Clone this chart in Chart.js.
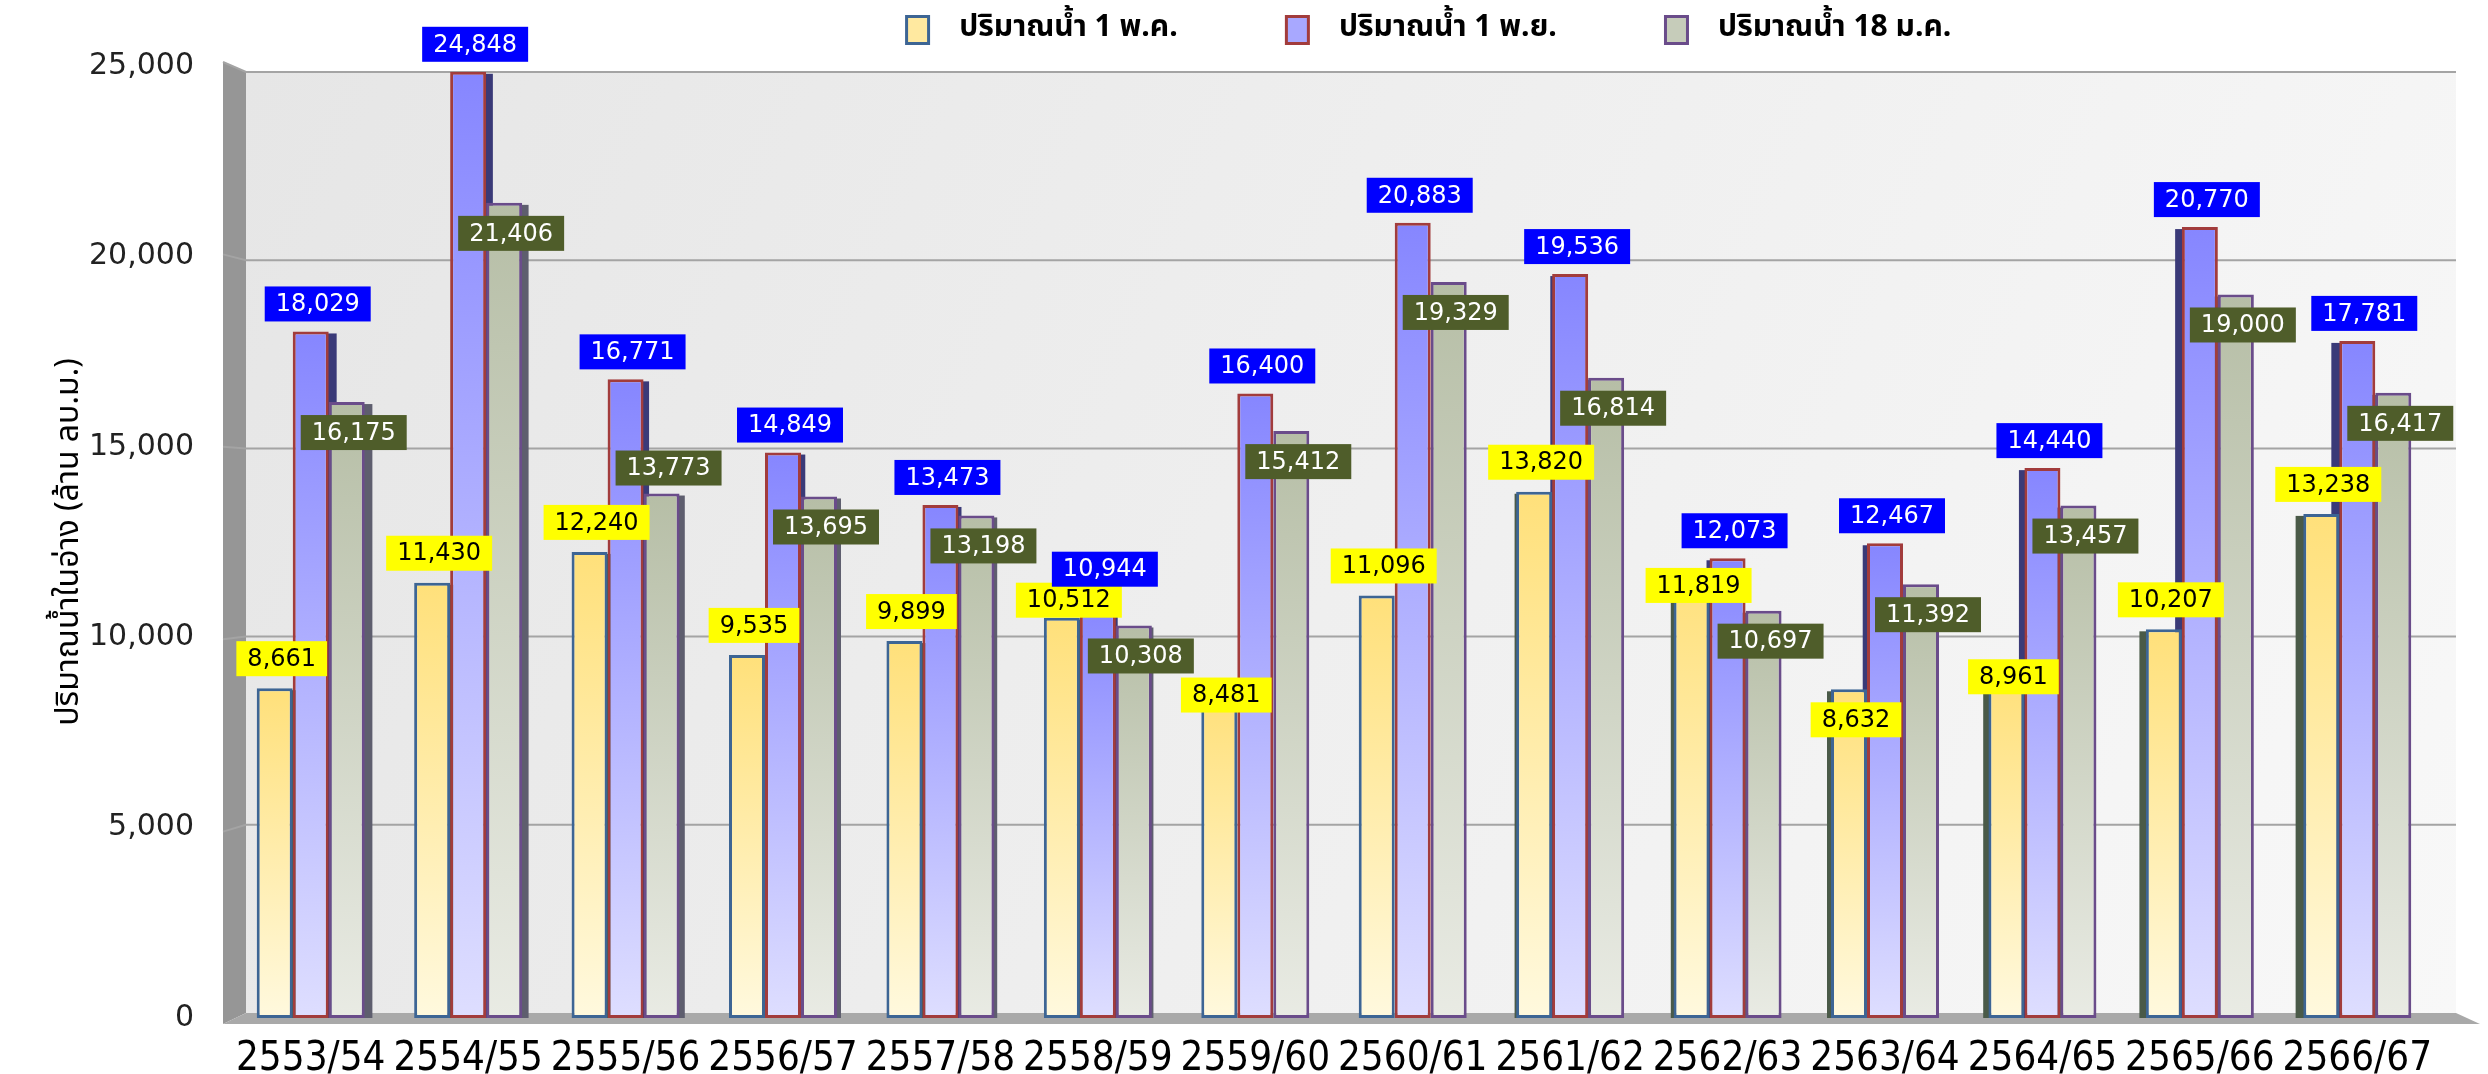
<!DOCTYPE html>
<html>
<head>
<meta charset="utf-8">
<script src="https://cdn.jsdelivr.net/npm/chart.js@4.4.0/dist/chart.umd.min.js"></script>
<style>
  html, body { margin: 0; padding: 0; background: #fff; }
  #grafico { width: 2488px; height: 1074px; position: relative; }
</style>
</head>
<body>
<div id="grafico"><canvas id="barras"></canvas></div>
<script>
// DATOS
const anios = ["2553/54", "2554/55", "2555/56", "2556/57", "2557/58", "2558/59", "2559/60",
  "2560/61", "2561/62", "2562/63", "2563/64", "2564/65", "2565/66", "2566/67"];
const nombres = ["ปริมาณน้ำ 1 พ.ค.", "ปริมาณน้ำ 1 พ.ย.", "ปริมาณน้ำ 18 ม.ค."];
const aguaMayo = [8661, 11430, 12240, 9535, 9899, 10512, 8481, 11096, 13820, 11819, 8632, 8961, 10207, 13238];
const aguaNoviembre = [18029, 24848, 16771, 14849, 13473, 10944, 16400, 20883, 19536, 12073, 12467, 14440, 20770, 17781];
const aguaEnero = [16175, 21406, 13773, 13695, 13198, 10308, 15412, 19329, 16814, 10697, 11392, 13457, 19000, 16417];
const marcasY = [0, 5000, 10000, 15000, 20000, 25000];
const tituloY = "ปริมาณน้ำในอ่าง (ล้าน ลบ.ม.)";
// DATOS END

const fuenteThai = "'Noto Sans Thai', 'Noto Sans', 'DejaVu Sans', sans-serif";
const fuenteNum = "'DejaVu Sans', Verdana, sans-serif";

const estilos = [
  { arriba: "#FFE07A", abajo: "#FFF9DE", borde: "#3D6594", lado: "#4A5A48", caja: "#FFFF00", texto: "#000000", leyenda: "#FFE9A0" },
  { arriba: "#8686FF", abajo: "#DEDEFF", borde: "#A23C3C", lado: "#3A3A78", caja: "#0000FF", texto: "#FFFFFF", leyenda: "#A8A8FF" },
  { arriba: "#B6BEA6", abajo: "#E9EBE4", borde: "#6A4C8A", lado: "#5E5E6E", caja: "#4F5D2A", texto: "#FFFFFF", leyenda: "#C6CCBA" },
];

function degradado(ctx, i) {
  const chart = ctx.chart;
  if (!chart.chartArea || ctx.type !== "data") return estilos[i].arriba;
  const y = chart.scales.y;
  const top = y.getPixelForValue(ctx.raw);
  const base = y.getPixelForValue(0);
  const g = chart.ctx.createLinearGradient(0, top, 0, base);
  g.addColorStop(0, estilos[i].arriba);
  g.addColorStop(1, estilos[i].abajo);
  return g;
}

// PAREDES 3D (fondo, pared izquierda, piso y lineas)
const paredes = {
  id: "paredes",
  beforeDraw(chart) {
    const { ctx, chartArea: a, scales: { y } } = chart;
    const fondoIzq = a.left + 14, fondoDer = a.right + 20;
    const fondoArr = a.top + 6, fondoAba = a.bottom - 5;
    const frenteIzq = a.left - 9, frenteArr = a.top - 4, frenteAba = a.bottom + 6;
    const base = y.getPixelForValue(0), tope = y.getPixelForValue(25000);
    const aFondo = (v) => fondoAba - (base - y.getPixelForValue(v)) * (fondoAba - fondoArr) / (base - tope);
    const aFrente = (v) => frenteAba - (base - y.getPixelForValue(v)) * (frenteAba - frenteArr) / (base - tope);

    ctx.save();
    const g = ctx.createLinearGradient(fondoIzq, fondoArr, fondoDer, fondoAba);
    g.addColorStop(0, "#E6E6E6");
    g.addColorStop(1, "#F8F8F8");
    ctx.fillStyle = g;
    ctx.fillRect(fondoIzq, fondoArr, fondoDer - fondoIzq, fondoAba - fondoArr);

    // pared izquierda
    ctx.fillStyle = "#969696";
    ctx.beginPath();
    ctx.moveTo(frenteIzq, frenteArr);
    ctx.lineTo(fondoIzq, fondoArr);
    ctx.lineTo(fondoIzq, fondoAba);
    ctx.lineTo(frenteIzq, frenteAba);
    ctx.closePath();
    ctx.fill();

    // piso
    ctx.fillStyle = "#A9A9A9";
    ctx.beginPath();
    ctx.moveTo(fondoIzq, fondoAba);
    ctx.lineTo(fondoDer, fondoAba);
    ctx.lineTo(fondoDer + 24, frenteAba);
    ctx.lineTo(frenteIzq, frenteAba);
    ctx.closePath();
    ctx.fill();

    // lineas de la grilla
    ctx.strokeStyle = "#A4A4A4";
    ctx.lineWidth = 2;
    y.ticks.forEach((t) => {
      if (t.value === 0) return;
      const yf = aFondo(t.value), yr = aFrente(t.value);
      ctx.beginPath();
      ctx.moveTo(frenteIzq, yr);
      ctx.lineTo(fondoIzq, yf);
      ctx.lineTo(fondoDer, yf);
      ctx.stroke();
    });
    ctx.restore();
  },
  // lado oscuro de cada barra
  beforeDatasetsDraw(chart) {
    const { ctx, chartArea: a } = chart;
    const centro = (a.left + a.right) / 2;
    ctx.save();
    chart.data.datasets.forEach((ds, i) => {
      chart.getDatasetMeta(i).data.forEach((bar) => {
        const d = 8 * (bar.x - centro) / 1030;
        const w = Math.abs(d);
        if (w < 1.5) return;
        const izq = bar.x - bar.width / 2, der = bar.x + bar.width / 2;
        ctx.fillStyle = estilos[i].lado;
        if (d < 0) ctx.fillRect(der - 1, bar.y + 2, w + 1, bar.base - bar.y - 2);
        else ctx.fillRect(izq - w, bar.y + 2, w + 1, bar.base - bar.y - 2);
      });
    });
    ctx.restore();
  },
};

// ETIQUETAS
function cruza(a, b, m) {
  return a.x1 < b.x2 && b.x1 < a.x2 && a.y1 < b.y2 + m && b.y1 < a.y2 + m;
}

const etiquetas = {
  id: "etiquetas",
  afterDatasetsDraw(chart) {
    const ctx = chart.ctx;
    const h = 35;
    ctx.save();
    ctx.font = "24px " + fuenteNum;
    ctx.textAlign = "center";
    ctx.textBaseline = "middle";
    const metas = [0, 1, 2].map((i) => chart.getDatasetMeta(i).data);
    const caja = (i, j, top) => {
      const bar = metas[i][j];
      const txt = chart.data.datasets[i].data[j].toLocaleString("en-US");
      const w = ctx.measureText(txt).width + 22;
      const cx = bar.x + 7;
      return { i, txt, cx, x1: cx - w / 2, x2: cx + w / 2, y1: top, y2: top + h };
    };
    let grisAnterior = null;
    anios.forEach((_, j) => {
      const yb = metas[0][j], bb = metas[1][j], gb = metas[2][j];
      let Y = caja(0, j, yb.y - 12 - h);
      let B = caja(1, j, bb.y - 10 - h);
      let G = caja(2, j, gb.y + 13);
      let adentro = false;
      // amarillo contra gris de la misma columna
      if (cruza(Y, G, 12)) {
        const G2 = caja(2, j, gb.y - 8 - h);
        if (!cruza(G2, B, 10)) G = G2;
        else { Y = caja(0, j, yb.y + 13); adentro = true; }
      }
      // amarillo contra azul
      if (!adentro && cruza(Y, B, 2)) {
        if (yb.y - bb.y < 12) { Y = caja(0, j, yb.y); adentro = true; }
        else {
          Y = caja(0, j, yb.y - h);
          B = caja(1, j, Y.y1 + 4 - h);
        }
      }
      // amarillo contra gris de la columna anterior
      if (!adentro && grisAnterior && cruza(Y, grisAnterior, 0)) {
        Y = caja(0, j, yb.y - h / 2);
      }
      [Y, B, G].forEach((c) => {
        ctx.fillStyle = estilos[c.i].caja;
        ctx.fillRect(c.x1, c.y1, c.x2 - c.x1, h);
        ctx.fillStyle = estilos[c.i].texto;
        ctx.fillText(c.txt, c.cx, c.y1 + h / 2 + 1);
      });
      grisAnterior = G;
    });
    ctx.restore();
  },
};

// LEYENDA con alto fijo y corrida a la derecha
const altoLeyenda = {
  id: "altoLeyenda",
  beforeInit(chart) {
    const fit = chart.legend.fit;
    chart.legend.fit = function () {
      fit.bind(chart.legend)();
      this.height = 66;
    };
  },
  afterLayout(chart) {
    chart.legend.left += 211;
    chart.legend.right += 211;
  },
};

const series = [aguaMayo, aguaNoviembre, aguaEnero];
const data = {
  labels: anios,
  datasets: series.map((valores, i) => ({
    label: nombres[i],
    data: valores,
    backgroundColor: (ctx) => degradado(ctx, i),
    borderColor: estilos[i].borde,
    borderWidth: 3,
    borderSkipped: false,
    barPercentage: 1,
    categoryPercentage: 0.686,
  })),
};

const config = {
  type: "bar",
  data: data,
  plugins: [paredes, etiquetas, altoLeyenda],
  options: {
    responsive: true,
    maintainAspectRatio: false,
    animation: false,
    devicePixelRatio: 1,
    layout: { padding: { left: 0, right: 52, top: 0, bottom: 0 } },
    plugins: {
      tooltip: { enabled: false },
      legend: {
        position: "top",
        labels: {
          color: "#000",
          boxWidth: 22,
          boxHeight: 27,
          padding: 15,
          font: { family: fuenteThai, size: 30, weight: "bold" },
          generateLabels: () => nombres.map((n, i) => ({
            text: "  " + n + (i < 2 ? "            " : ""),
            fillStyle: estilos[i].leyenda,
            strokeStyle: estilos[i].borde,
            lineWidth: 3,
            datasetIndex: i,
            hidden: false,
          })),
        },
      },
    },
    scales: {
      x: {
        grid: { display: false, drawTicks: false },
        border: { display: false },
        ticks: {
          color: "#000",
          padding: 18,
          font: { family: "'Liberation Sans Narrow', 'DejaVu Sans Condensed', sans-serif", size: 40 },
        },
        afterFit: (scale) => { scale.height = 56; },
      },
      y: {
        min: 0,
        max: 25000,
        afterBuildTicks: (scale) => { scale.ticks = marcasY.map((v) => ({ value: v })); },
        grid: { display: false, drawTicks: false },
        border: { display: false },
        ticks: {
          color: "#222",
          padding: 38,
          font: { family: fuenteNum, size: 30 },
          callback: (v) => v.toLocaleString("en-US"),
        },
        title: {
          display: true,
          text: tituloY,
          color: "#000",
          padding: { top: 52, bottom: 0 },
          font: { family: fuenteThai, size: 32 },
        },
        afterFit: (scale) => { scale.width = 232; },
      },
    },
  },
};

new Chart(document.getElementById("barras"), config);
</script>
</body>
</html>
